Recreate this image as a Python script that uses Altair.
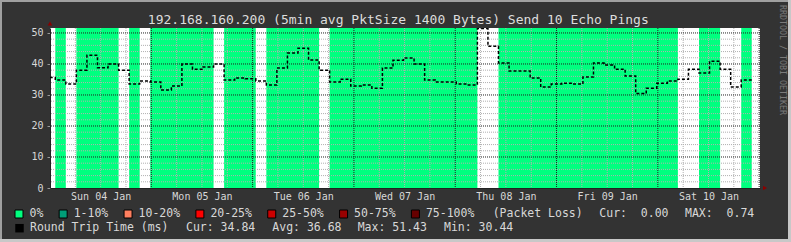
import altair as alt
import pandas as pd

# ---------------- data ----------------
START = "2015-01-04T00:00:00Z"      # Sun 04 Jan
STEP_HOURS = 2.5                     # consolidation step of the RRD
FIRST_EDGE_HOURS = -1.25             # first step starts before the graph start
SPAN_HOURS = 168.2

# median round trip time per step (ms)
rtt_ms = [35.6, 34.8, 33.5, 38.0, 42.8, 38.8, 40.0, 38.0, 33.5, 34.5,
          34.2, 31.6, 32.9, 40.0, 38.3, 39.0, 40.0, 34.8, 35.5, 35.2,
          34.5, 33.2, 38.7, 43.5, 45.1, 41.3, 38.0, 34.2, 35.1, 32.9,
          33.2, 32.2, 38.7, 41.2, 41.9, 40.0, 34.8, 34.2, 34.2, 33.5,
          33.2, 51.43, 45.7, 40.3, 37.7, 37.7, 35.5, 32.6, 33.5, 33.8,
          33.5, 35.8, 40.3, 39.7, 38.3, 36.1, 30.44, 32.2, 33.8, 34.5,
          35.1, 38.3, 37.1, 40.9, 38.3, 32.6, 34.84]

# averaged lost pings per step (out of 10); 0 -> green band, small fractions fall in no bucket
loss_pings = [0.3, 0, 0.2, 0, 0, 0, 0, 0.4, 0, 0.2,
              0, 0, 0, 0, 0, 0, 0.3, 0, 0, 0,
              0.2, 0, 0, 0, 0, 0, 0.3, 0, 0, 0,
              0, 0, 0, 0, 0, 0, 0, 0, 0, 0,
              0, 0.74, 0.5, 0, 0, 0, 0, 0, 0, 0,
              0, 0, 0, 0, 0, 0, 0, 0, 0, 0,
              0.3, 0.2, 0, 0, 0.3, 0.4, 0]

loss_labels = ["0%", "1-10%", "10-20%", "20-25%", "25-50%", "50-75%", "75-100%"]
loss_colors = ["#00ff7f", "#009e78", "#ff7f5f", "#ff0000", "#cc0000", "#990000", "#660000"]

y_label_values = [0, 10, 20, 30, 40, 50]
day_count = 7

title_text = "192.168.160.200 (5min avg PktSize 1400 Bytes) Send 10 Echo Pings"
NB = "\u00a0"
loss_stats = ["(Packet Loss)", "Cur:" + NB + NB + "0.00", "MAX:" + NB + NB + "0.74"]
rtt_label = "Round Trip Time (ms)"
rtt_stats = ["Cur: 34.84", "Avg: 36.68", "Max: 51.43", "Min: 30.44"]

# ---------------- layout ----------------
W, H = 710, 160
PAD_L, PAD_T = 50, 28
FONT = "DejaVu Sans Mono"
TXT = "#d8d8d8"
CH = 0.602 * 11.5  # legend char advance

t0 = pd.Timestamp(START)


def ms(hours):
    return int((t0 + pd.Timedelta(hours=hours)).value // 10**6)


edges = [ms(FIRST_EDGE_HOURS + STEP_HOURS * k) for k in range(len(rtt_ms) + 1)]
line_df = pd.DataFrame({"t": edges, "rtt": rtt_ms + [rtt_ms[-1]]})

# merge consecutive loss-free steps into single bands (avoids seams)
runs = []
for k, lp in enumerate(loss_pings):
    if lp == 0:
        if runs and runs[-1][1] == edges[k]:
            runs[-1][1] = edges[k + 1]
        else:
            runs.append([edges[k], edges[k + 1]])
band_df = pd.DataFrame({"t": [r[0] for r in runs], "t2": [r[1] for r in runs]})

minor_x = pd.DataFrame({"t": [ms(h) for h in range(6, 169, 6) if h % 24]})
major_x = pd.DataFrame({"t": [ms(h) for h in range(24, 169, 24)]})
minor_y = pd.DataFrame({"v": [v for v in range(2, 52, 2) if v % 10]})
major_y = pd.DataFrame({"v": [v for v in range(10, 51, 10)]})

xscale = alt.Scale(type="utc", domain=[ms(0), ms(SPAN_HOURS)])
yscale = alt.Scale(domain=[0, 51.6], nice=False, zero=True)

xaxis = alt.Axis(values=[ms(12 + 24 * d) for d in range(day_count)], format="%a %d %b",
                 ticks=False, grid=False, title=None, labelFontSize=10, labelPadding=3,
                 labelColor=TXT, labelFont=FONT, domainColor="#222222", labelFlush=False)
yaxis = alt.Axis(values=y_label_values, grid=False, title=None, labelFontSize=10,
                 labelPadding=4, tickSize=3, tickColor="#999999", labelColor=TXT,
                 labelFont=FONT, domainColor="#222222")

bands = alt.Chart(band_df).mark_rect(color=loss_colors[0]).encode(
    x=alt.X("t:T", scale=xscale, axis=xaxis), x2="t2:T")

g_minor_x = alt.Chart(minor_x).mark_rule(color="#b0b0b0", strokeDash=[1, 1], strokeWidth=1).encode(
    x=alt.X("t:T", scale=xscale, axis=xaxis))
g_minor_y = alt.Chart(minor_y).mark_rule(color="#b0b0b0", strokeDash=[1, 1], strokeWidth=1).encode(
    y=alt.Y("v:Q", scale=yscale, axis=yaxis))
g_major_x = alt.Chart(major_x).mark_rule(color="#202020", strokeDash=[1, 1], strokeWidth=1).encode(
    x=alt.X("t:T", scale=xscale, axis=xaxis))
g_major_y = alt.Chart(major_y).mark_rule(color="#202020", strokeDash=[1, 1], strokeWidth=1).encode(
    y=alt.Y("v:Q", scale=yscale, axis=yaxis))

line = alt.Chart(line_df).mark_line(interpolate="step-after", color="black", strokeWidth=1.5,
                                    strokeDash=[3, 2], clip=True).encode(
    x=alt.X("t:T", scale=xscale, axis=xaxis),
    y=alt.Y("rtt:Q", scale=yscale, axis=yaxis))

# ---------------- texts / legend ----------------
one = pd.DataFrame({"a": [0]})
title = alt.Chart(one).mark_text(text=title_text, font=FONT, fontSize=13, color="#dddddd",
                                 align="center", baseline="alphabetic").encode(
    x=alt.value(398.3 - PAD_L), y=alt.value(24 - PAD_T))

watermark = alt.Chart(one).mark_text(text="RRDTOOL / TOBI OETIKER", font=FONT, fontSize=8.3,
                                     color="#7a7a7a", align="left", baseline="middle",
                                     angle=90).encode(
    x=alt.value(781.6 - PAD_L), y=alt.value(5 - PAD_T))

# legend row 1 (packet loss buckets)
bx = [15.0]
for lab in loss_labels[:-1]:
    bx.append(bx[-1] + 14.5 + len(lab) * CH + 15.8)
leg1 = pd.DataFrame({"label": loss_labels, "color": loss_colors,
                     "bx": [b + 4 - PAD_L for b in bx],
                     "tx": [b + 14.5 - PAD_L for b in bx]})
ROW1 = 214.0 - PAD_T
ROW2 = 228.2 - PAD_T
leg1_sq = alt.Chart(leg1).mark_square(size=64, stroke="black", strokeWidth=1, opacity=1).encode(
    x=alt.X("bx:Q", scale=None, axis=None), y=alt.value(ROW1),
    fill=alt.Fill("color:N", scale=None))
leg1_tx = alt.Chart(leg1).mark_text(font=FONT, fontSize=11.5, color=TXT, align="left",
                                    baseline="middle").encode(
    x=alt.X("tx:Q", scale=None, axis=None), y=alt.value(ROW1), text="label:N")

row1_x = [492.7, 599.3, 685.0]
row2_x = [30.0, 186.0, 272.3, 357.7, 444.0]
stats1 = pd.DataFrame({"s": loss_stats, "x": [v - PAD_L for v in row1_x]})
stats2 = pd.DataFrame({"s": [rtt_label] + rtt_stats, "x": [v - PAD_L for v in row2_x]})
stats1_tx = alt.Chart(stats1).mark_text(font=FONT, fontSize=11.5, color=TXT, align="left",
                                        baseline="middle").encode(
    x=alt.X("x:Q", scale=None, axis=None), y=alt.value(ROW1), text="s:N")
stats2_tx = alt.Chart(stats2).mark_text(font=FONT, fontSize=11.5, color=TXT, align="left",
                                        baseline="middle").encode(
    x=alt.X("x:Q", scale=None, axis=None), y=alt.value(ROW2), text="s:N")
rtt_sq = alt.Chart(one).mark_square(size=72, color="black", opacity=1).encode(
    x=alt.value(19.5 - PAD_L), y=alt.value(ROW2))

# arrows
arrow_up = alt.Chart(one).mark_point(shape="triangle-up", size=22, filled=True, color="#8b0000",
                                     opacity=1).encode(x=alt.value(0), y=alt.value(-4.5))
arrow_right = alt.Chart(one).mark_point(shape="triangle-right", size=22, filled=True,
                                        color="#8b0000", opacity=1).encode(
    x=alt.value(765 - PAD_L), y=alt.value(H))

# outer frame
frame_tl = alt.Chart(one).mark_rect(color="#a0a0a0").encode(
    x=alt.value(-PAD_L), x2=alt.value(791 - PAD_L), y=alt.value(-PAD_T), y2=alt.value(2 - PAD_T))
frame_l = alt.Chart(one).mark_rect(color="#a0a0a0").encode(
    x=alt.value(-PAD_L), x2=alt.value(2 - PAD_L), y=alt.value(-PAD_T), y2=alt.value(242 - PAD_T))
frame_b = alt.Chart(one).mark_rect(color="#c8c8c8").encode(
    x=alt.value(-PAD_L), x2=alt.value(791 - PAD_L), y=alt.value(239 - PAD_T), y2=alt.value(242 - PAD_T))
frame_r = alt.Chart(one).mark_rect(color="#c8c8c8").encode(
    x=alt.value(788 - PAD_L), x2=alt.value(791 - PAD_L), y=alt.value(-PAD_T), y2=alt.value(242 - PAD_T))

chart = alt.layer(
    bands, g_minor_x, g_minor_y, g_major_x, g_major_y, line,
    title, watermark, leg1_sq, leg1_tx, stats1_tx, stats2_tx, rtt_sq,
    arrow_up, arrow_right, frame_tl, frame_l, frame_b, frame_r
).properties(
    width=W, height=H,
    padding={"left": PAD_L, "top": PAD_T, "right": 791 - PAD_L - W, "bottom": 242 - PAD_T - H},
    autosize=alt.AutoSizeParams(type="none"),
    background="#333333",
).configure_view(fill="white", stroke=None)

chart.save("out.html", embed_options={"renderer": "svg", "actions": False})
